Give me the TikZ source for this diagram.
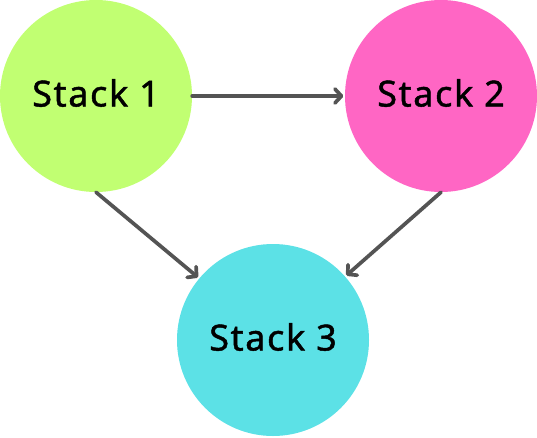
\documentclass[tikz,border=0pt]{standalone}
\usepackage{fontspec}
\setmainfont{Noto Sans}[LetterSpace=4.5,FakeBold=1.2]
\usetikzlibrary{arrows.meta}
\definecolor{cgreen}{HTML}{C1FF72}
\definecolor{cpink}{HTML}{FF66C4}
\definecolor{ccyan}{HTML}{5CE1E6}
\definecolor{carrow}{HTML}{545454}
\begin{document}
\begin{tikzpicture}[x=1pt,y=-1pt,
  stackcircle/.style={circle,minimum size=192pt,inner sep=0pt,
    font=\fontsize{36}{40}\selectfont},
  stacklabel/.style={yshift=3pt},
  link/.style={draw=carrow,line width=3.7pt,line cap=round,line join=round,
    -{Straight Barb[length=6.5pt,width=14pt,line cap=round,line join=round]},shorten >=1.5pt}]
\useasboundingbox (0,0) rectangle (537,437);
\node[stackcircle,fill=cgreen] (s1) at (96,96) {};
\node[stackcircle,fill=cpink] (s2) at (441,96) {};
\node[stackcircle,fill=ccyan] (s3) at (273,340) {};
\node[font=\fontsize{36}{40}\selectfont,stacklabel] (t1) at (s1) {Stack 1};
\node[font=\fontsize{36}{40}\selectfont,stacklabel] (t2) at (s2) {Stack 2};
\node[font=\fontsize{36}{40}\selectfont,stacklabel] (t3) at (s3) {Stack 3};
\draw[link] (s1.east) -- (s2.west);
\draw[link] (s1.south) -- (s3);
\draw[link] (s2.south) -- (s3);
\end{tikzpicture}
\end{document}
